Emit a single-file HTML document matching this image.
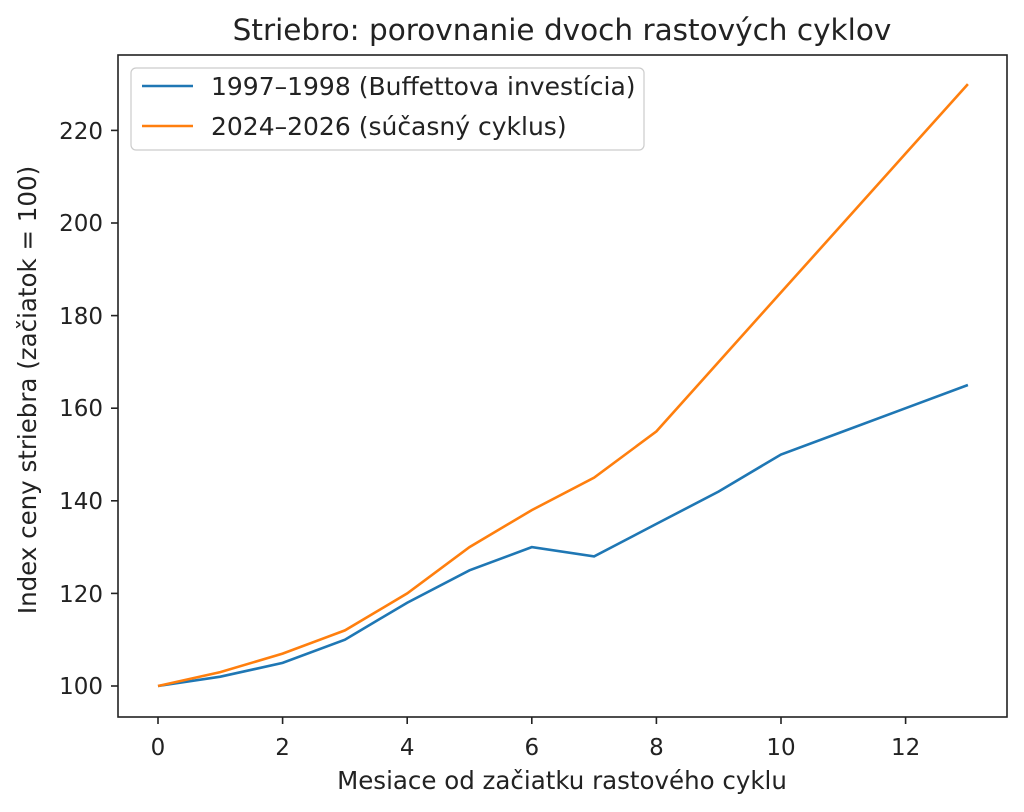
<!DOCTYPE html><html><head><style>body{margin:0;background:#fff}svg{display:block;font-family:"DejaVu Sans","Liberation Sans",sans-serif}</style></head><body>
<svg width="1024" height="812" viewBox="0 0 1024 812">
<rect width="1024" height="812" fill="#fff"/>
<text x="562" y="40" font-size="29.5" text-anchor="middle" fill="#222">Striebro: porovnanie dvoch rastových cyklov</text>
<g stroke="#222" stroke-width="1.6">
<line x1="158" y1="717" x2="158" y2="724"/><line x1="282.6" y1="717" x2="282.6" y2="724"/><line x1="407.2" y1="717" x2="407.2" y2="724"/><line x1="531.8" y1="717" x2="531.8" y2="724"/><line x1="656.4" y1="717" x2="656.4" y2="724"/><line x1="781" y1="717" x2="781" y2="724"/><line x1="905.6" y1="717" x2="905.6" y2="724"/>
<line x1="111" y1="686" x2="118" y2="686"/><line x1="111" y1="593.4" x2="118" y2="593.4"/><line x1="111" y1="500.8" x2="118" y2="500.8"/><line x1="111" y1="408.2" x2="118" y2="408.2"/><line x1="111" y1="315.6" x2="118" y2="315.6"/><line x1="111" y1="223" x2="118" y2="223"/><line x1="111" y1="130.4" x2="118" y2="130.4"/>
</g>
<g font-size="23" fill="#222" text-anchor="middle">
<text x="158" y="755">0</text><text x="282.6" y="755">2</text><text x="407.2" y="755">4</text><text x="531.8" y="755">6</text><text x="656.4" y="755">8</text><text x="781" y="755">10</text><text x="905.6" y="755">12</text>
</g>
<g font-size="23" fill="#222" text-anchor="end">
<text x="103" y="694">100</text><text x="103" y="602">120</text><text x="103" y="509">140</text><text x="103" y="416">160</text><text x="103" y="324">180</text><text x="103" y="231">200</text><text x="103" y="139">220</text>
</g>
<text x="562" y="789" font-size="24.5" text-anchor="middle" fill="#222">Mesiace od začiatku rastového cyklu</text>
<text transform="translate(36,390) rotate(-90)" font-size="24.5" text-anchor="middle" fill="#222">Index ceny striebra (začiatok = 100)</text>
<polyline fill="none" stroke="#1f77b4" stroke-width="2.6" points="158,686 220.3,676.7 282.6,662.9 344.9,639.7 407.2,602.7 469.5,570.3 531.8,547.1 594.1,556.4 656.4,523.9 718.7,491.5 781,454.5 843.3,431.4 905.6,408.2 967.9,385"/>
<polyline fill="none" stroke="#ff7f0e" stroke-width="2.6" points="158,686 220.3,672.1 282.6,653.6 344.9,630.4 407.2,593.4 469.5,547.1 531.8,510.1 594.1,477.7 656.4,431.4 718.7,361.9 781,292.4 843.3,223 905.6,153.5 967.9,84.1"/>
<rect x="118" y="55" width="889" height="662" fill="none" stroke="#222" stroke-width="1.6"/>
<rect x="131" y="68" width="513" height="82" rx="5" fill="#fff" fill-opacity="0.8" stroke="#ccc" stroke-width="1.2"/>
<line x1="142" y1="86" x2="193" y2="86" stroke="#1f77b4" stroke-width="2.6"/>
<line x1="142" y1="126" x2="193" y2="126" stroke="#ff7f0e" stroke-width="2.6"/>
<text x="211" y="95" font-size="25" fill="#222">1997–1998 (Buffettova investícia)</text>
<text x="211" y="135" font-size="25" fill="#222">2024–2026 (súčasný cyklus)</text>
</svg></body></html>
